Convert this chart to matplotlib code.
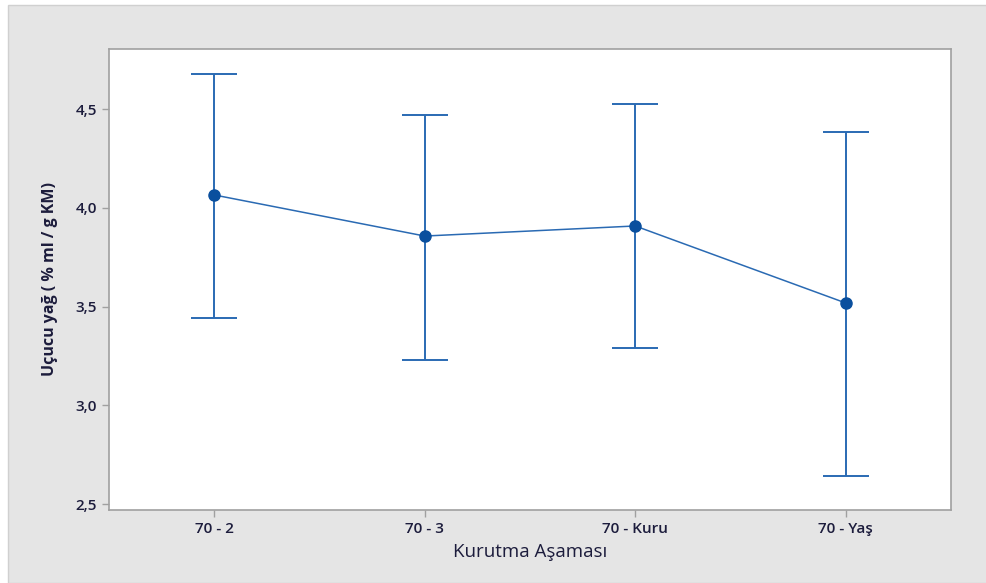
import matplotlib
matplotlib.use("Agg")
import matplotlib.pyplot as plt
from matplotlib.patches import Rectangle
from matplotlib.ticker import FuncFormatter

# data
categories = ["70 - 2", "70 - 3", "70 - Kuru", "70 - Yaş"]
means = [4.065, 3.857, 3.908, 3.518]
upper = [4.677, 4.470, 4.528, 4.384]
lower = [3.442, 3.229, 3.290, 2.642]

W, H = 987, 583
fig = plt.figure(figsize=(W / 100, H / 100), dpi=100)
fig.patch.set_facecolor("white")
plt.rcParams["font.family"] = ["Open Sans", "DejaVu Sans"]

# grey panel behind the chart
fig.add_artist(Rectangle((8 / W, 0), 1 - 8 / W, 1 - 5 / H,
                         transform=fig.transFigure, facecolor="#e5e5e5",
                         edgecolor="#d0d0d0", linewidth=1, zorder=-5))

ax = fig.add_axes([109 / W, 1 - 510 / H, (951 - 109) / W, (510 - 49) / H])
ax.set_zorder(2)
ax.set_facecolor("white")

x = list(range(len(categories)))
err_lo = [m - l for m, l in zip(means, lower)]
err_hi = [u - m for m, u in zip(means, upper)]

ax.errorbar(x, means, yerr=[err_lo, err_hi], fmt="none", ecolor="#2a6ab3",
            elinewidth=1.4, capsize=16.5, capthick=1.4, zorder=2)
ax.plot(x, means, color="#2a6ab3", linewidth=1.1, zorder=3)
ax.plot(x, means, "o", color="#0a4f9e", markersize=8, zorder=4)

ax.set_xlim(-0.5, 3.5)
ax.set_ylim(2.47, 4.804)
ax.set_yticks([2.5, 3.0, 3.5, 4.0, 4.5])
ax.yaxis.set_major_formatter(FuncFormatter(lambda v, p: f"{v:.1f}".replace(".", ",")))
ax.set_xticks(x)
ax.set_xticklabels(categories)

text_color = "#1c1c3c"
for s in ax.spines.values():
    s.set_color("#a0a0a0")
    s.set_linewidth(1.2)
ax.tick_params(axis="both", colors="#a0a0a0", length=5, width=1,
               labelcolor=text_color, labelsize=11)
for lbl in ax.get_xticklabels() + ax.get_yticklabels():
    lbl.set_fontweight("semibold")

ax.set_xlabel("Kurutma Aşaması", fontsize=13.5, color=text_color, labelpad=5)
ax.set_ylabel("Uçucu yağ ( % ml / g KM)", fontsize=11.5, color=text_color,
              fontweight="bold", labelpad=13)

fig.savefig("out.png", dpi=100)
